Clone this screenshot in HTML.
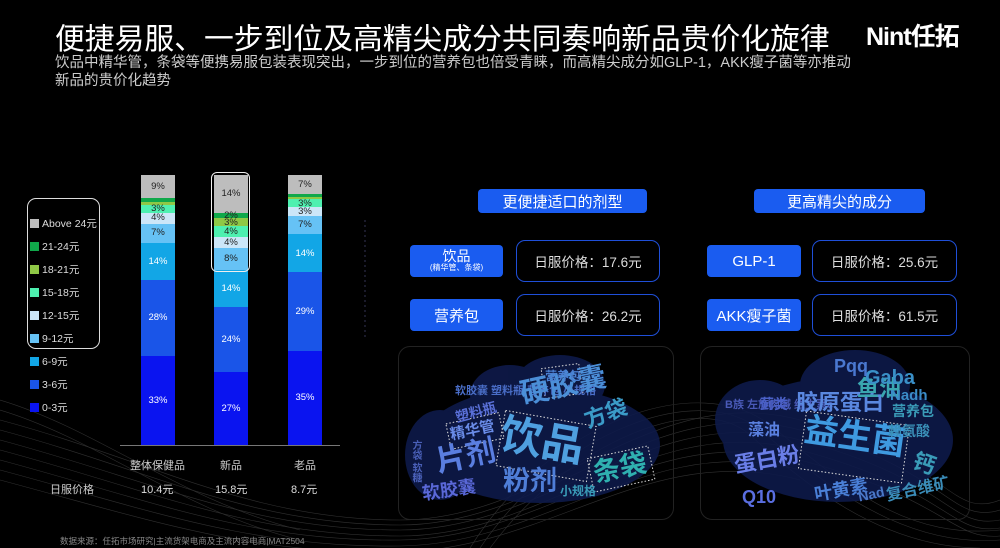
<!DOCTYPE html>
<html><head><meta charset="utf-8"><style>
*{margin:0;padding:0;box-sizing:border-box}
body{width:1000px;height:548px;background:#000;position:relative;overflow:hidden;font-family:"Liberation Sans","Noto Sans CJK SC",sans-serif;color:#fff}
.a{position:absolute;white-space:nowrap}
.bar{position:absolute;top:175px;height:270px;width:34px;display:flex;flex-direction:column-reverse}
.bar div{display:flex;align-items:center;justify-content:center;font-size:9.5px;color:#fff;overflow:visible;line-height:1}
.bar div.d{color:#222}
.lg{position:absolute;left:30px;font-size:10.5px;color:#ddd;display:flex;align-items:center}
.lg i{display:inline-block;width:9px;height:9px;margin-right:3px}
.hb{position:absolute;background:#1a5cf0;border-radius:4px;color:#fff;display:flex;align-items:center;justify-content:center;flex-direction:column}
.pb{position:absolute;border:1.5px solid #1f4fd8;border-radius:9px;color:#ddd;font-size:13.5px;display:flex;align-items:center;justify-content:center}
.w{position:absolute;white-space:nowrap;font-weight:bold;line-height:1}
</style></head><body>
<svg class="a" style="left:0;top:0" width="1000" height="548">
<g fill="none" stroke="#888" stroke-width="0.6" opacity="0.35">
<path d="M0 420 C150 460 250 520 400 520 S650 380 800 420 S950 520 1000 500"/>
<path d="M0 430 C150 470 250 525 400 525 S650 390 800 430 S950 525 1000 510"/>
<path d="M0 440 C150 480 250 530 400 530 S650 400 800 440 S950 530 1000 520"/>
<path d="M0 450 C150 490 250 536 400 536 S650 410 800 450 S950 536 1000 528"/>
<path d="M0 460 C150 500 250 542 400 540 S650 420 800 460 S950 540 1000 536"/>
<path d="M0 470 C150 510 250 548 400 546 S650 430 800 470"/>
<path d="M0 480 C150 520 250 555 400 552 S650 440 800 480"/>
<path d="M0 400 C100 430 180 500 300 530"/>
<path d="M0 410 C100 440 180 510 300 540"/>
<path d="M480 548 C560 430 700 380 760 430 S900 548 1000 540"/>
<path d="M470 548 C550 420 700 370 770 425 S900 540 1000 530"/>
<path d="M490 548 C570 440 700 390 750 435 S880 548 980 548"/>
</g>
<line x1="365" y1="220" x2="365" y2="340" stroke="#335" stroke-dasharray="2,3"/>
<line x1="120" y1="445.5" x2="340" y2="445.5" stroke="#777" stroke-width="1"/>
</svg>

<div class="a" style="left:55px;top:14px;font-size:29.8px;color:#fff">便捷易服、一步到位及高精尖成分共同奏响新品贵价化旋律</div>
<div class="a" style="left:866px;top:17px;font-size:25px;font-weight:bold;letter-spacing:-1px">Nint任拓</div>
<div class="a" style="left:55px;top:54px;font-size:14.5px;color:#ccc;line-height:18px">饮品中精华管，条袋等便携易服包装表现突出，一步到位的营养包也倍受青睐，而高精尖成分如GLP-1，AKK瘦子菌等亦推动<br>新品的贵价化趋势</div>

<div class="a" style="left:27px;top:198px;width:73px;height:151px;border:1.5px solid #ddd;border-radius:9px"></div>
<div class="lg" style="top:216px"><i style="background:#bdbdbd"></i>Above 24元</div>
<div class="lg" style="top:239px"><i style="background:#10a84a"></i>21-24元</div>
<div class="lg" style="top:262px"><i style="background:#8fc846"></i>18-21元</div>
<div class="lg" style="top:285px"><i style="background:#4ef0b0"></i>15-18元</div>
<div class="lg" style="top:308px"><i style="background:#cce6f8"></i>12-15元</div>
<div class="lg" style="top:331px"><i style="background:#66c2f5"></i>9-12元</div>
<div class="lg" style="top:354px"><i style="background:#12a6e6"></i>6-9元</div>
<div class="lg" style="top:377px"><i style="background:#1a55e8"></i>3-6元</div>
<div class="lg" style="top:400px"><i style="background:#0a14f0"></i>0-3元</div>

<div class="bar" style="left:141px">
<div style="height:33%;background:#0a14f0">33%</div><div style="height:28%;background:#1a55e8">28%</div><div style="height:14%;background:#12a6e6">14%</div><div class="d" style="height:7%;background:#66c2f5">7%</div><div class="d" style="height:4%;background:#cce6f8">4%</div><div class="d" style="height:3%;background:#4ef0b0">3%</div><div class="d" style="height:1%;background:#8fc846"></div><div class="d" style="height:1.5%;background:#10a84a"></div><div class="d" style="height:8.5%;background:#bdbdbd">9%</div></div>
<div class="bar" style="left:214px">
<div style="height:27%;background:#0a14f0">27%</div><div style="height:24%;background:#1a55e8">24%</div><div style="height:14%;background:#12a6e6">14%</div><div class="d" style="height:8%;background:#66c2f5">8%</div><div class="d" style="height:4%;background:#cce6f8">4%</div><div class="d" style="height:4%;background:#4ef0b0">4%</div><div class="d" style="height:3%;background:#8fc846">3%</div><div class="d" style="height:2%;background:#10a84a">2%</div><div class="d" style="height:14%;background:#bdbdbd">14%</div></div>
<div class="bar" style="left:288px">
<div style="height:35%;background:#0a14f0">35%</div><div style="height:29%;background:#1a55e8">29%</div><div style="height:14%;background:#12a6e6">14%</div><div class="d" style="height:7%;background:#66c2f5">7%</div><div class="d" style="height:3%;background:#cce6f8">3%</div><div class="d" style="height:3%;background:#4ef0b0">3%</div><div class="d" style="height:1%;background:#8fc846"></div><div class="d" style="height:1%;background:#10a84a"></div><div class="d" style="height:7%;background:#bdbdbd">7%</div></div>
<div class="a" style="left:211px;top:172px;width:39px;height:100px;border:1.5px solid #eee;border-radius:6px"></div>

<div class="a" style="left:130px;top:457px;font-size:11px;color:#ccc">整体保健品</div>
<div class="a" style="left:220px;top:457px;font-size:11px;color:#ccc">新品</div>
<div class="a" style="left:294px;top:457px;font-size:11px;color:#ccc">老品</div>
<div class="a" style="left:50px;top:481px;font-size:11px;color:#ccc">日服价格</div>
<div class="a" style="left:141px;top:481px;font-size:11px;color:#ddd">10.4元</div>
<div class="a" style="left:215px;top:481px;font-size:11px;color:#ddd">15.8元</div>
<div class="a" style="left:291px;top:481px;font-size:11px;color:#ddd">8.7元</div>

<div class="hb" style="left:478px;top:189px;width:169px;height:24px;font-size:15px">更便捷适口的剂型</div>
<div class="hb" style="left:754px;top:189px;width:171px;height:24px;font-size:15px">更高精尖的成分</div>
<div class="hb" style="left:410px;top:245px;width:93px;height:32px;font-size:14px;line-height:1.05">饮品<span style="font-size:8px">(精华管、条袋)</span></div>
<div class="hb" style="left:410px;top:299px;width:93px;height:32px;font-size:15px">营养包</div>
<div class="hb" style="left:707px;top:245px;width:94px;height:32px;font-size:15px">GLP-1</div>
<div class="hb" style="left:707px;top:299px;width:94px;height:32px;font-size:15px">AKK瘦子菌</div>
<div class="pb" style="left:516px;top:240px;width:144px;height:42px">日服价格：17.6元</div>
<div class="pb" style="left:516px;top:294px;width:144px;height:42px">日服价格：26.2元</div>
<div class="pb" style="left:812px;top:240px;width:145px;height:42px">日服价格：25.6元</div>
<div class="pb" style="left:812px;top:294px;width:145px;height:42px">日服价格：61.5元</div>

<div class="a" style="left:398px;top:346px;width:276px;height:174px;border:1px solid #222;border-radius:12px"></div>
<div class="a" style="left:700px;top:346px;width:270px;height:174px;border:1px solid #222;border-radius:12px"></div>
<svg class="a" style="left:0;top:0" width="1000" height="548">
<g fill="#0e1a4a" opacity="0.9">
<ellipse cx="540" cy="445" rx="120" ry="58"/><ellipse cx="510" cy="395" rx="40" ry="30"/><ellipse cx="560" cy="385" rx="45" ry="30"/><ellipse cx="440" cy="455" rx="35" ry="45"/>
<ellipse cx="838" cy="440" rx="115" ry="62"/><ellipse cx="855" cy="385" rx="55" ry="35"/><ellipse cx="760" cy="420" rx="45" ry="40"/>
</g>
<g fill="none" stroke="#ddd" stroke-dasharray="1.5,2" stroke-width="1">
<rect x="500" y="418" width="92" height="56" transform="rotate(10 546 446)"/>
<rect x="448" y="418" width="54" height="26" transform="rotate(-12 475 431)"/>
<rect x="590" y="452" width="62" height="34" transform="rotate(-12 621 469)"/>
<rect x="543" y="366" width="38" height="30" transform="rotate(-8 562 381)"/>
<rect x="802" y="418" width="104" height="58" transform="rotate(8 854 447)"/>
</g>
</svg>
<div class="w" style="left:455px;top:386px;font-size:11px;color:#4a6ec8">软胶囊 塑料瓶 营养包 小规格</div>
<div class="w" style="left:410px;top:440px;font-size:10px;color:#4a60b8;writing-mode:vertical-lr">方袋 软糖</div>
<div class="w" style="left:520px;top:372px;font-size:29px;color:#4b8fd8;transform:rotate(-12deg)">硬胶囊</div>
<div class="w" style="left:500px;top:420px;font-size:42px;color:#4fa0e0;transform:rotate(10deg)">饮品</div>
<div class="w" style="left:436px;top:442px;font-size:30px;color:#5a7ee0;transform:rotate(-12deg)">片剂</div>
<div class="w" style="left:503px;top:468px;font-size:27px;color:#4f7ed8">粉剂</div>
<div class="w" style="left:593px;top:455px;font-size:27px;color:#2fb0b0;transform:rotate(-12deg)">条袋</div>
<div class="w" style="left:584px;top:403px;font-size:22px;color:#3b9bc8;transform:rotate(-20deg)">方袋</div>
<div class="w" style="left:450px;top:423px;font-size:15px;color:#6a8ce8;transform:rotate(-12deg)">精华管</div>
<div class="w" style="left:455px;top:405px;font-size:14px;color:#5a70d8;transform:rotate(-15deg)">塑料瓶</div>
<div class="w" style="left:422px;top:481px;font-size:18px;color:#5a68d8;transform:rotate(-8deg)">软胶囊</div>
<div class="w" style="left:545px;top:370px;font-size:12px;color:#4a7ed0">营养包</div>
<div class="w" style="left:560px;top:485px;font-size:12px;color:#3a9cb8">小规格</div>

<div class="w" style="left:725px;top:400px;font-size:11px;color:#4a5ab8">B族 左旋肉碱 维生素c</div>
<div class="w" style="left:804px;top:420px;font-size:34px;color:#3f9ae0;transform:rotate(8deg)">益生菌</div>
<div class="w" style="left:796px;top:392px;font-size:22px;color:#5a88e0">胶原蛋白</div>
<div class="w" style="left:857px;top:378px;font-size:22px;color:#3aa6b0">鱼油</div>
<div class="w" style="left:734px;top:449px;font-size:22px;color:#6a7ee8;transform:rotate(-10deg)">蛋白粉</div>
<div class="w" style="left:865px;top:368px;font-size:20px;color:#3a90c8">Gaba</div>
<div class="w" style="left:834px;top:357px;font-size:18px;color:#4a78d0">Pqq</div>
<div class="w" style="left:748px;top:423px;font-size:16px;color:#5a80e0">藻油</div>
<div class="w" style="left:913px;top:453px;font-size:22px;color:#3a9cb8;transform:rotate(20deg)">钙</div>
<div class="w" style="left:814px;top:481px;font-size:18px;color:#4a80d8;transform:rotate(-10deg)">叶黄素</div>
<div class="w" style="left:886px;top:482px;font-size:16px;color:#3a8cb8;transform:rotate(-12deg)">复合维矿</div>
<div class="w" style="left:742px;top:488px;font-size:18px;color:#5a6ee0">Q10</div>
<div class="w" style="left:892px;top:404px;font-size:14px;color:#3a9cb8">营养包</div>
<div class="w" style="left:888px;top:424px;font-size:14px;color:#3a90b8">赖氨酸</div>
<div class="w" style="left:890px;top:388px;font-size:15px;color:#3a8cc8">Nadh</div>
<div class="w" style="left:858px;top:487px;font-size:14px;color:#4a78c8;transform:rotate(-12deg)">Nad</div>
<div class="w" style="left:760px;top:397px;font-size:14px;color:#4a60c8">蓟类</div>

<div class="a" style="left:60px;top:535px;font-size:8.5px;color:#888">数据来源：任拓市场研究|主流货架电商及主流内容电商|MAT2504</div>
</body></html>
